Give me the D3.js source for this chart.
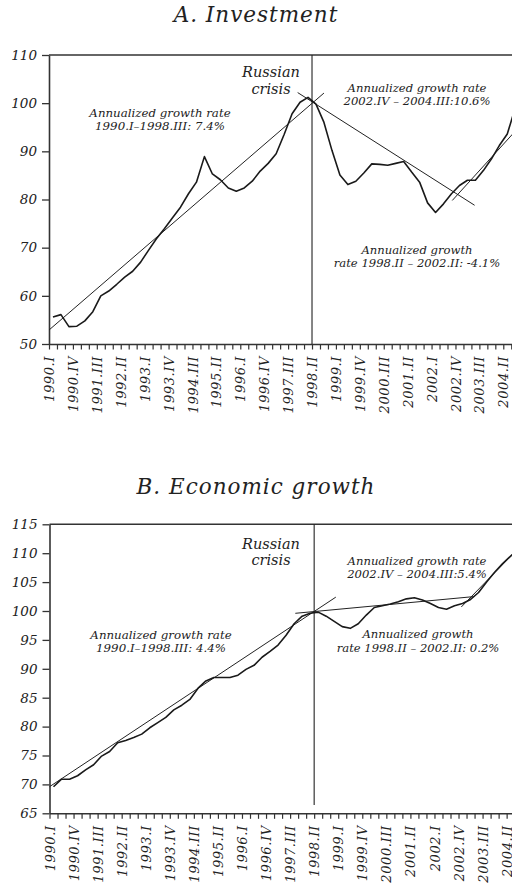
<!DOCTYPE html>
<html>
<head>
<meta charset="utf-8">
<script src="https://cdn.jsdelivr.net/npm/d3@7"></script>
<style>
  body { margin: 0; background: #fff; }
  svg { display: block; }
  text { font-family: "DejaVu Serif", serif; font-style: italic; fill: #222; }
</style>
</head>
<body>
<svg></svg>
<script>
const width = 512;
const height = 885;

const svg = d3.select('svg')
    .attr('width', width)
    .attr('height', height);

// quarters 1990.I .. 2004.III
const quarters = [
  '1990.I','1990.II','1990.III','1990.IV','1991.I','1991.II','1991.III','1991.IV',
  '1992.I','1992.II','1992.III','1992.IV','1993.I','1993.II','1993.III','1993.IV',
  '1994.I','1994.II','1994.III','1994.IV','1995.I','1995.II','1995.III','1995.IV',
  '1996.I','1996.II','1996.III','1996.IV','1997.I','1997.II','1997.III','1997.IV',
  '1998.I','1998.II','1998.III','1998.IV','1999.I','1999.II','1999.III','1999.IV',
  '2000.I','2000.II','2000.III','2000.IV','2001.I','2001.II','2001.III','2001.IV',
  '2002.I','2002.II','2002.III','2002.IV','2003.I','2003.II','2003.III','2003.IV',
  '2004.I','2004.II','2004.III'
];
const crisisQuarter = '1998.II';

const investment = [
  55.6, 56.1, 53.6, 53.7, 54.8, 56.7, 60.0, 61.0, 62.4, 63.9,
  65.1, 67.0, 69.5, 71.9, 74.0, 76.2, 78.4, 81.2, 83.6, 88.9,
  85.3, 84.1, 82.4, 81.7, 82.4, 83.8, 85.9, 87.5, 89.5, 93.5,
  97.8, 100.2, 101.2, 99.8, 96.0, 90.2, 85.1, 83.1, 83.8, 85.5,
  87.4, 87.3, 87.1, 87.5, 87.9, 85.7, 83.6, 79.3, 77.3, 79.1,
  81.2, 82.9, 84.0, 84.0, 86.0, 88.4, 91.2, 93.6, 99.0
];

const growth = [
  69.6, 70.9, 70.9, 71.5, 72.5, 73.4, 74.9, 75.7, 77.2, 77.6,
  78.1, 78.7, 79.8, 80.7, 81.6, 82.9, 83.7, 84.7, 86.6, 87.9,
  88.5, 88.5, 88.5, 88.9, 89.9, 90.6, 92.0, 93.0, 94.1, 95.8,
  97.8, 99.1, 99.6, 99.8, 99.1, 98.2, 97.3, 97.0, 97.8, 99.3,
  100.6, 100.9, 101.2, 101.6, 102.1, 102.3, 101.9, 101.3, 100.6, 100.3,
  100.9, 101.3, 102.0, 103.2, 105.0, 106.7, 108.2, 109.5, 110.8
];

// trend lines: [quarter position, index value]
const investmentTrends = [
  [[0, 52.9], [34.5, 102.1]],
  [[31.2, 102.2], [53.4, 78.8]],
  [[50.6, 79.8], [59, 95.1]]
];
const growthTrends = [
  [[0, 69.6], [35.7, 102.4]],
  [[30.65, 99.6], [52.97, 102.5]],
  [[51.35, 100.7], [59, 111.6]]
];

const investmentTicks = [50, 60, 70, 80, 90, 100, 110];
const growthTicks = [65, 70, 75, 80, 85, 90, 95, 100, 105, 110, 115];

const investmentNotes = [
  { lines: ['Russian', 'crisis'], x: 271, y: 77, size: 14.5, gap: 16.5 },
  { lines: ['Annualized growth rate', '1990.I\u20131998.III: 7.4%'], x: 160, y: 117, size: 11.8, gap: 13 },
  { lines: ['Annualized growth rate', '2002.IV \u2013 2004.III:10.6%'], x: 417, y: 92, size: 11.6, gap: 12.5 },
  { lines: ['Annualized growth', 'rate 1998.II \u2013 2002.II: -4.1%'], x: 417, y: 254, size: 11.6, gap: 12.7 }
];
const growthNotes = [
  { lines: ['Russian', 'crisis'], x: 271, y: 549, size: 14.5, gap: 16 },
  { lines: ['Annualized growth rate', '1990.I\u20131998.III: 4.4%'], x: 161, y: 639, size: 11.8, gap: 12.7 },
  { lines: ['Annualized growth rate', '2002.IV \u2013 2004.III:5.4%'], x: 417, y: 565, size: 11.6, gap: 13.3 },
  { lines: ['Annualized growth', 'rate 1998.II \u2013 2002.II: 0.2%'], x: 418, y: 638, size: 11.6, gap: 13.5 }
];

function drawPanel(cfg) {
  const x = d3.scaleLinear()
      .domain([0, quarters.length])
      .range([cfg.left, cfg.left + quarters.length * cfg.step]);
  const y = d3.scaleLinear()
      .domain(cfg.domain)
      .range([cfg.bottom, cfg.top]);

  const g = svg.append('g');

  // title
  g.append('text')
      .attr('x', 256)
      .attr('y', cfg.titleY)
      .attr('text-anchor', 'middle')
      .style('font-size', '21.5px')
      .style('letter-spacing', '1px')
      .text(cfg.title);

  // top frame line
  g.append('line')
      .attr('x1', cfg.left).attr('x2', width)
      .attr('y1', cfg.top).attr('y2', cfg.top)
      .attr('stroke', '#333').attr('stroke-width', 1.6);

  // y axis
  const yAxis = g.append('g')
      .attr('transform', `translate(${cfg.left},0)`)
      .call(d3.axisLeft(y).tickValues(cfg.ticks).tickSize(7).tickPadding(5).tickSizeOuter(0));
  yAxis.select('.domain').attr('stroke', '#333').attr('stroke-width', 1.6);
  yAxis.selectAll('.tick line').attr('stroke', '#333').attr('stroke-width', 1.3);
  yAxis.selectAll('text')
      .style('font-family', '"DejaVu Serif", serif')
      .style('font-style', 'italic')
      .style('font-size', '13.5px')
      .attr('fill', '#222');

  // x axis
  const xAxis = g.append('g')
      .attr('transform', `translate(0,${cfg.bottom})`)
      .call(d3.axisBottom(x)
        .tickValues(d3.range(quarters.length))
        .tickFormat(i => i % 3 === 0 ? quarters[i] : '')
        .tickSize(5.5)
        .tickSizeOuter(0));
  xAxis.select('.domain').attr('stroke', '#333').attr('stroke-width', 1.6);
  xAxis.selectAll('.tick line').attr('stroke', '#333').attr('stroke-width', 1.2);
  xAxis.selectAll('text')
      .attr('transform', 'rotate(-90)')
      .attr('x', -12)
      .attr('y', 0)
      .attr('dy', '0.35em')
      .attr('text-anchor', 'end')
      .style('font-family', '"DejaVu Serif", serif')
      .style('font-style', 'italic')
      .style('font-size', '13px')
      .style('letter-spacing', '0.6px')
      .attr('fill', '#222');

  // crisis line
  const cx = x(quarters.indexOf(crisisQuarter));
  g.append('line')
      .attr('x1', cx).attr('x2', cx)
      .attr('y1', cfg.top).attr('y2', cfg.crisisEnd)
      .attr('stroke', '#222').attr('stroke-width', 1.1);

  // trend lines
  const trend = d3.line().x(d => x(d[0])).y(d => y(d[1]));
  g.selectAll('path.trend')
    .data(cfg.trends)
    .enter().append('path')
      .attr('class', 'trend')
      .attr('d', trend)
      .attr('fill', 'none')
      .attr('stroke', '#222')
      .attr('stroke-width', 1);

  // series
  const line = d3.line()
      .x((d, i) => x(i + 0.5))
      .y(d => y(d));
  g.append('path')
      .datum(cfg.values)
      .attr('d', line)
      .attr('fill', 'none')
      .attr('stroke', '#1a1a1a')
      .attr('stroke-width', 1.6)
      .attr('stroke-linejoin', 'round');

  // annotations
  cfg.notes.forEach(n => {
    const t = g.append('text')
        .attr('text-anchor', 'middle')
        .style('font-size', n.size + 'px');
    n.lines.forEach((s, k) => {
      t.append('tspan')
          .attr('x', n.x)
          .attr('y', n.y + k * n.gap)
          .text(s);
    });
  });
}

drawPanel({
  title: 'A. Investment', titleY: 22,
  values: investment, trends: investmentTrends, notes: investmentNotes,
  domain: [50, 110], ticks: investmentTicks,
  left: 49, step: 7.97, top: 55, bottom: 344, crisisEnd: 344
});

drawPanel({
  title: 'B. Economic growth', titleY: 494,
  values: growth, trends: growthTrends, notes: growthNotes,
  domain: [65, 115], ticks: growthTicks,
  left: 49.5, step: 8.02, top: 524.3, bottom: 813.3, crisisEnd: 805
});
</script>
</body>
</html>
